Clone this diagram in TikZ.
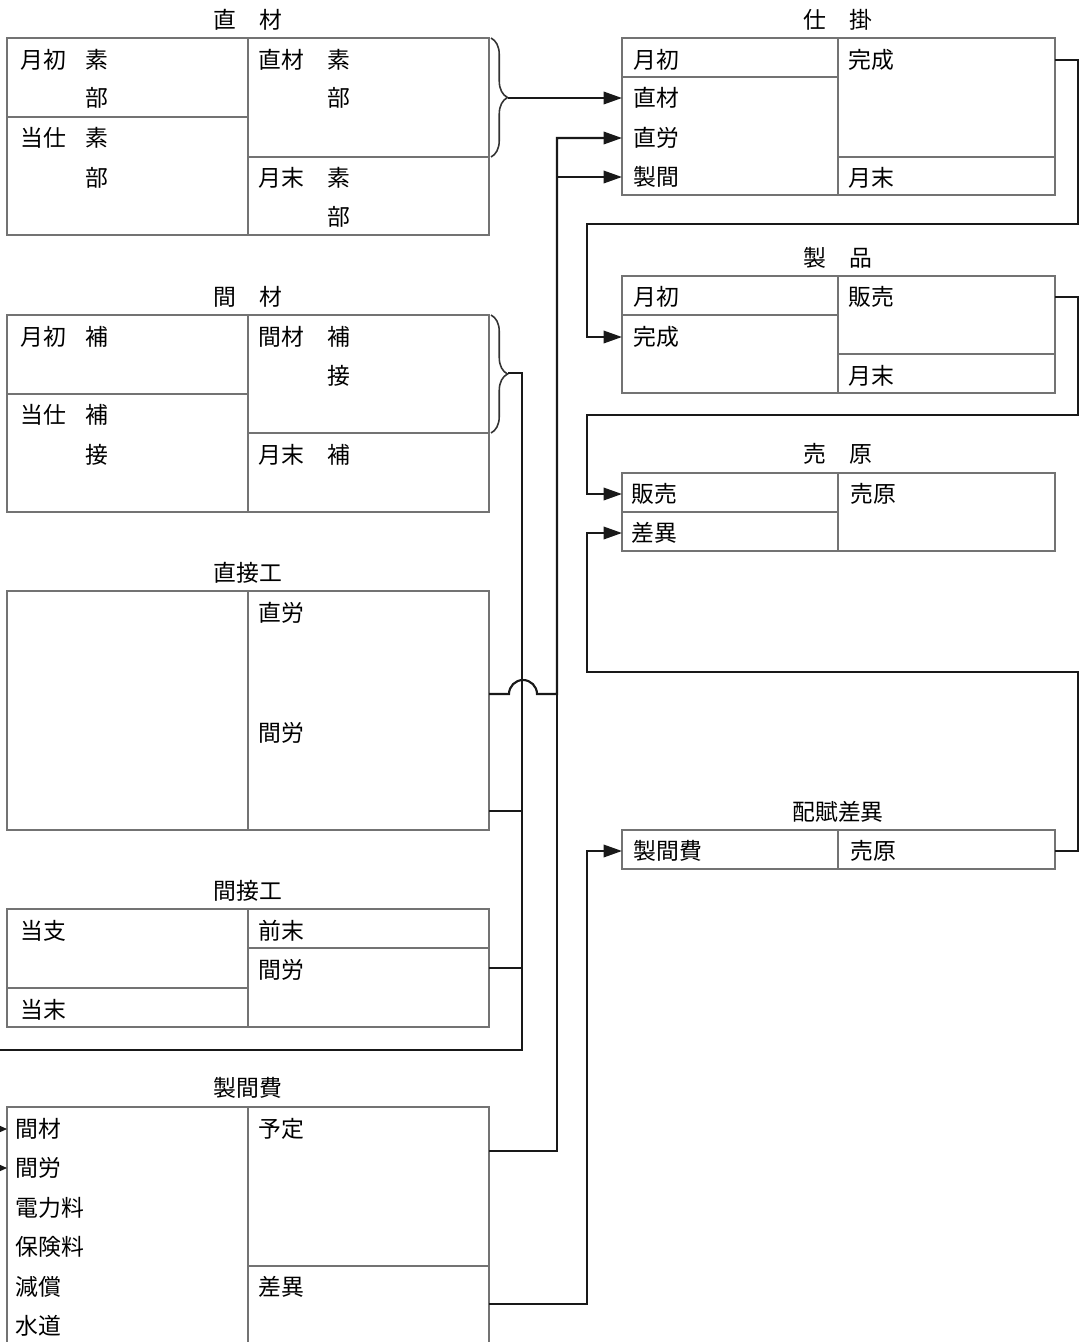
\documentclass[tikz,border=0pt]{standalone}
\usepackage{fontspec}
\setmainfont{Noto Sans CJK JP}
\usetikzlibrary{arrows.meta, decorations.pathreplacing}
\begin{document}
\begin{tikzpicture}[x=0.02cm, y=-0.02cm,
    frame/.style={draw=black!55, line width=0.8pt},
    conn/.style={draw=black!90, line width=1.2pt},
    arr/.style={conn, -{Triangle[length=0.37cm, width=0.25cm]}},
    small arr/.style={conn, line width=0.6pt, -{Triangle[length=0.14cm, width=0.12cm]}},
    brace/.style={draw=black!80, line width=0.9pt, decorate, decoration={brace, amplitude=0.33cm, aspect=0.5}},
    title/.style={font=\fontsize{13}{15}\selectfont, inner sep=0pt},
    txt/.style={font=\fontsize{13}{15}\selectfont, anchor=west, inner sep=0pt}]
\useasboundingbox (0,0) rectangle (1082,1342);

% left side accounts
% 直材
\node (cz-t)[title] at (248, 20) {直　材};
\draw[frame] (7,38) coordinate (cz-nw) rectangle (489,235) coordinate (cz-se);
\draw[frame] (248,38) -- (248,235);
\draw[frame] (7,117) -- (248,117);
\draw[frame] (248,157) -- (489,157);
\node (cz-a)[txt] at (20, 60) {月初};
\node (cz-b)[txt] at (85, 60) {素};
\node (cz-c)[txt] at (85, 98) {部};
\node (cz-d)[txt] at (20, 138) {当仕};
\node (cz-e)[txt] at (85, 138) {素};
\node (cz-f)[txt] at (85, 178) {部};
\node (cz-g)[txt] at (258, 60) {直材};
\node (cz-h)[txt] at (327, 60) {素};
\node (cz-i)[txt] at (327, 98) {部};
\node (cz-j)[txt] at (258, 178) {月末};
\node (cz-k)[txt] at (327, 178) {素};
\node (cz-l)[txt] at (327, 217) {部};
\draw[brace] (491,38) -- (491,157);
\coordinate (cz-tip) at (508,98);

% 間材
\node (kz-t)[title] at (248, 297) {間　材};
\draw[frame] (7,315) rectangle (489,512);
\draw[frame] (248,315) -- (248,512);
\draw[frame] (7,394) -- (248,394);
\draw[frame] (248,433) -- (489,433);
\node (kz-a)[txt] at (20, 337) {月初};
\node (kz-b)[txt] at (85, 337) {補};
\node (kz-c)[txt] at (20, 415) {当仕};
\node (kz-d)[txt] at (85, 415) {補};
\node (kz-e)[txt] at (85, 455) {接};
\node (kz-f)[txt] at (258, 337) {間材};
\node (kz-g)[txt] at (327, 337) {補};
\node (kz-h)[txt] at (327, 376) {接};
\node (kz-i)[txt] at (258, 455) {月末};
\node (kz-j)[txt] at (327, 455) {補};
\draw[brace] (491,315) -- (491,433);
\coordinate (kz-tip) at (508,373);

% 直接工
\node (cs-t)[title] at (248, 573) {直接工};
\draw[frame] (7,591) rectangle (489,830);
\draw[frame] (248,591) -- (248,830);
\node (cs-a)[txt] at (258, 613) {直労};
\node (cs-b)[txt] at (258, 733) {間労};
\coordinate (cs-out1) at (489,694);
\coordinate (cs-out2) at (489,811);

% 間接工
\node (ks-t)[title] at (248, 891) {間接工};
\draw[frame] (7,909) rectangle (489,1027);
\draw[frame] (248,909) -- (248,1027);
\draw[frame] (7,988) -- (248,988);
\draw[frame] (248,948) -- (489,948);
\node (ks-a)[txt] at (20, 931) {当支};
\node (ks-b)[txt] at (20, 1010) {当末};
\node (ks-c)[txt] at (258, 931) {前末};
\node (ks-d)[txt] at (258, 970) {間労};
\coordinate (ks-out) at (489,968);

% 製間費
\node (sk-t)[title] at (248, 1088) {製間費};
\draw[frame] (7,1342) -- (7,1107) -- (489,1107) -- (489,1342);
\draw[frame] (248,1107) -- (248,1342);
\draw[frame] (248,1266) -- (489,1266);
\node (sk-a)[txt] at (15, 1129) {間材};
\node (sk-b)[txt] at (15, 1168) {間労};
\node (sk-c)[txt] at (15, 1208) {電力料};
\node (sk-d)[txt] at (15, 1247) {保険料};
\node (sk-e)[txt] at (15, 1287) {減償};
\node (sk-f)[txt] at (15, 1326) {水道};
\node (sk-g)[txt] at (258, 1129) {予定};
\node (sk-h)[txt] at (258, 1287) {差異};
\coordinate (sk-out1) at (489,1151);
\coordinate (sk-out2) at (489,1304);

% right side accounts
% 仕掛
\node (sh-t)[title] at (838, 20) {仕　掛};
\draw[frame] (622,38) coordinate (sh-nw) rectangle (1055,195) coordinate (sh-se);
\draw[frame] (838,38) -- (838,195);
\draw[frame] (622,77) -- (838,77);
\draw[frame] (838,157) -- (1055,157);
\node (sh-a)[txt] at (633, 60) {月初};
\node (sh-b)[txt] at (633, 98) {直材};
\node (sh-c)[txt] at (633, 138) {直労};
\node (sh-d)[txt] at (633, 177) {製間};
\node (sh-e)[txt] at (848, 60) {完成};
\node (sh-f)[txt] at (848, 178) {月末};

% 製品
\node (sp-t)[title] at (838, 258) {製　品};
\draw[frame] (622,276) coordinate (sp-nw) rectangle (1055,393) coordinate (sp-se);
\draw[frame] (838,276) -- (838,393);
\draw[frame] (622,315) -- (838,315);
\draw[frame] (838,354) -- (1055,354);
\node (sp-a)[txt] at (633, 297) {月初};
\node (sp-b)[txt] at (633, 337) {完成};
\node (sp-c)[txt] at (848, 297) {販売};
\node (sp-d)[txt] at (848, 376) {月末};

% 売原
\node (ug-t)[title] at (838, 454) {売　原};
\draw[frame] (622,473) coordinate (ug-nw) rectangle (1055,551) coordinate (ug-se);
\draw[frame] (838,473) -- (838,551);
\draw[frame] (622,512) -- (838,512);
\node (ug-a)[txt] at (631, 494) {販売};
\node (ug-b)[txt] at (631, 533) {差異};
\node (ug-c)[txt] at (850, 494) {売原};

% 配賦差異
\node (hs-t)[title] at (838, 812) {配賦差異};
\draw[frame] (622,830) coordinate (hs-nw) rectangle (1055,869) coordinate (hs-se);
\draw[frame] (838,830) -- (838,869);
\node (hs-a)[txt] at (633, 851) {製間費};
\node (hs-b)[txt] at (850, 851) {売原};

% connectors
\draw[arr] (cz-tip) -- (sh-nw |- sh-b);
\draw[conn] (kz-tip) -- (522,373) -- (522,1050) -- (0,1050);
\draw[conn] (cs-out2) -- (522,811);
\draw[conn] (ks-out) -- (522,968);
\draw[small arr] (0,1129) -- (7,1129);
\draw[small arr] (0,1168) -- (7,1168);
\draw[arr] (cs-out1) -- (509,694) arc[start angle=180, end angle=0, radius=0.28cm] -- (557,694) |- (sh-nw |- sh-c);
\draw[arr] (sk-out1) -- (557,1151) |- (sh-nw |- sh-d);
\draw[arr] (sk-out2) -- (587,1304) |- (hs-nw |- hs-a);
\draw[arr] (sh-se |- sh-e) -- (1078,60) -- (1078,224) -- (587,224) |- (sp-nw |- sp-b);
\draw[arr] (sp-se |- sp-c) -- (1078,297) -- (1078,415) -- (587,415) |- (ug-nw |- ug-a);
\draw[arr] (hs-se |- hs-b) -- (1078,851) -- (1078,672) -- (587,672) |- (ug-nw |- ug-b);
\end{tikzpicture}
\end{document}
